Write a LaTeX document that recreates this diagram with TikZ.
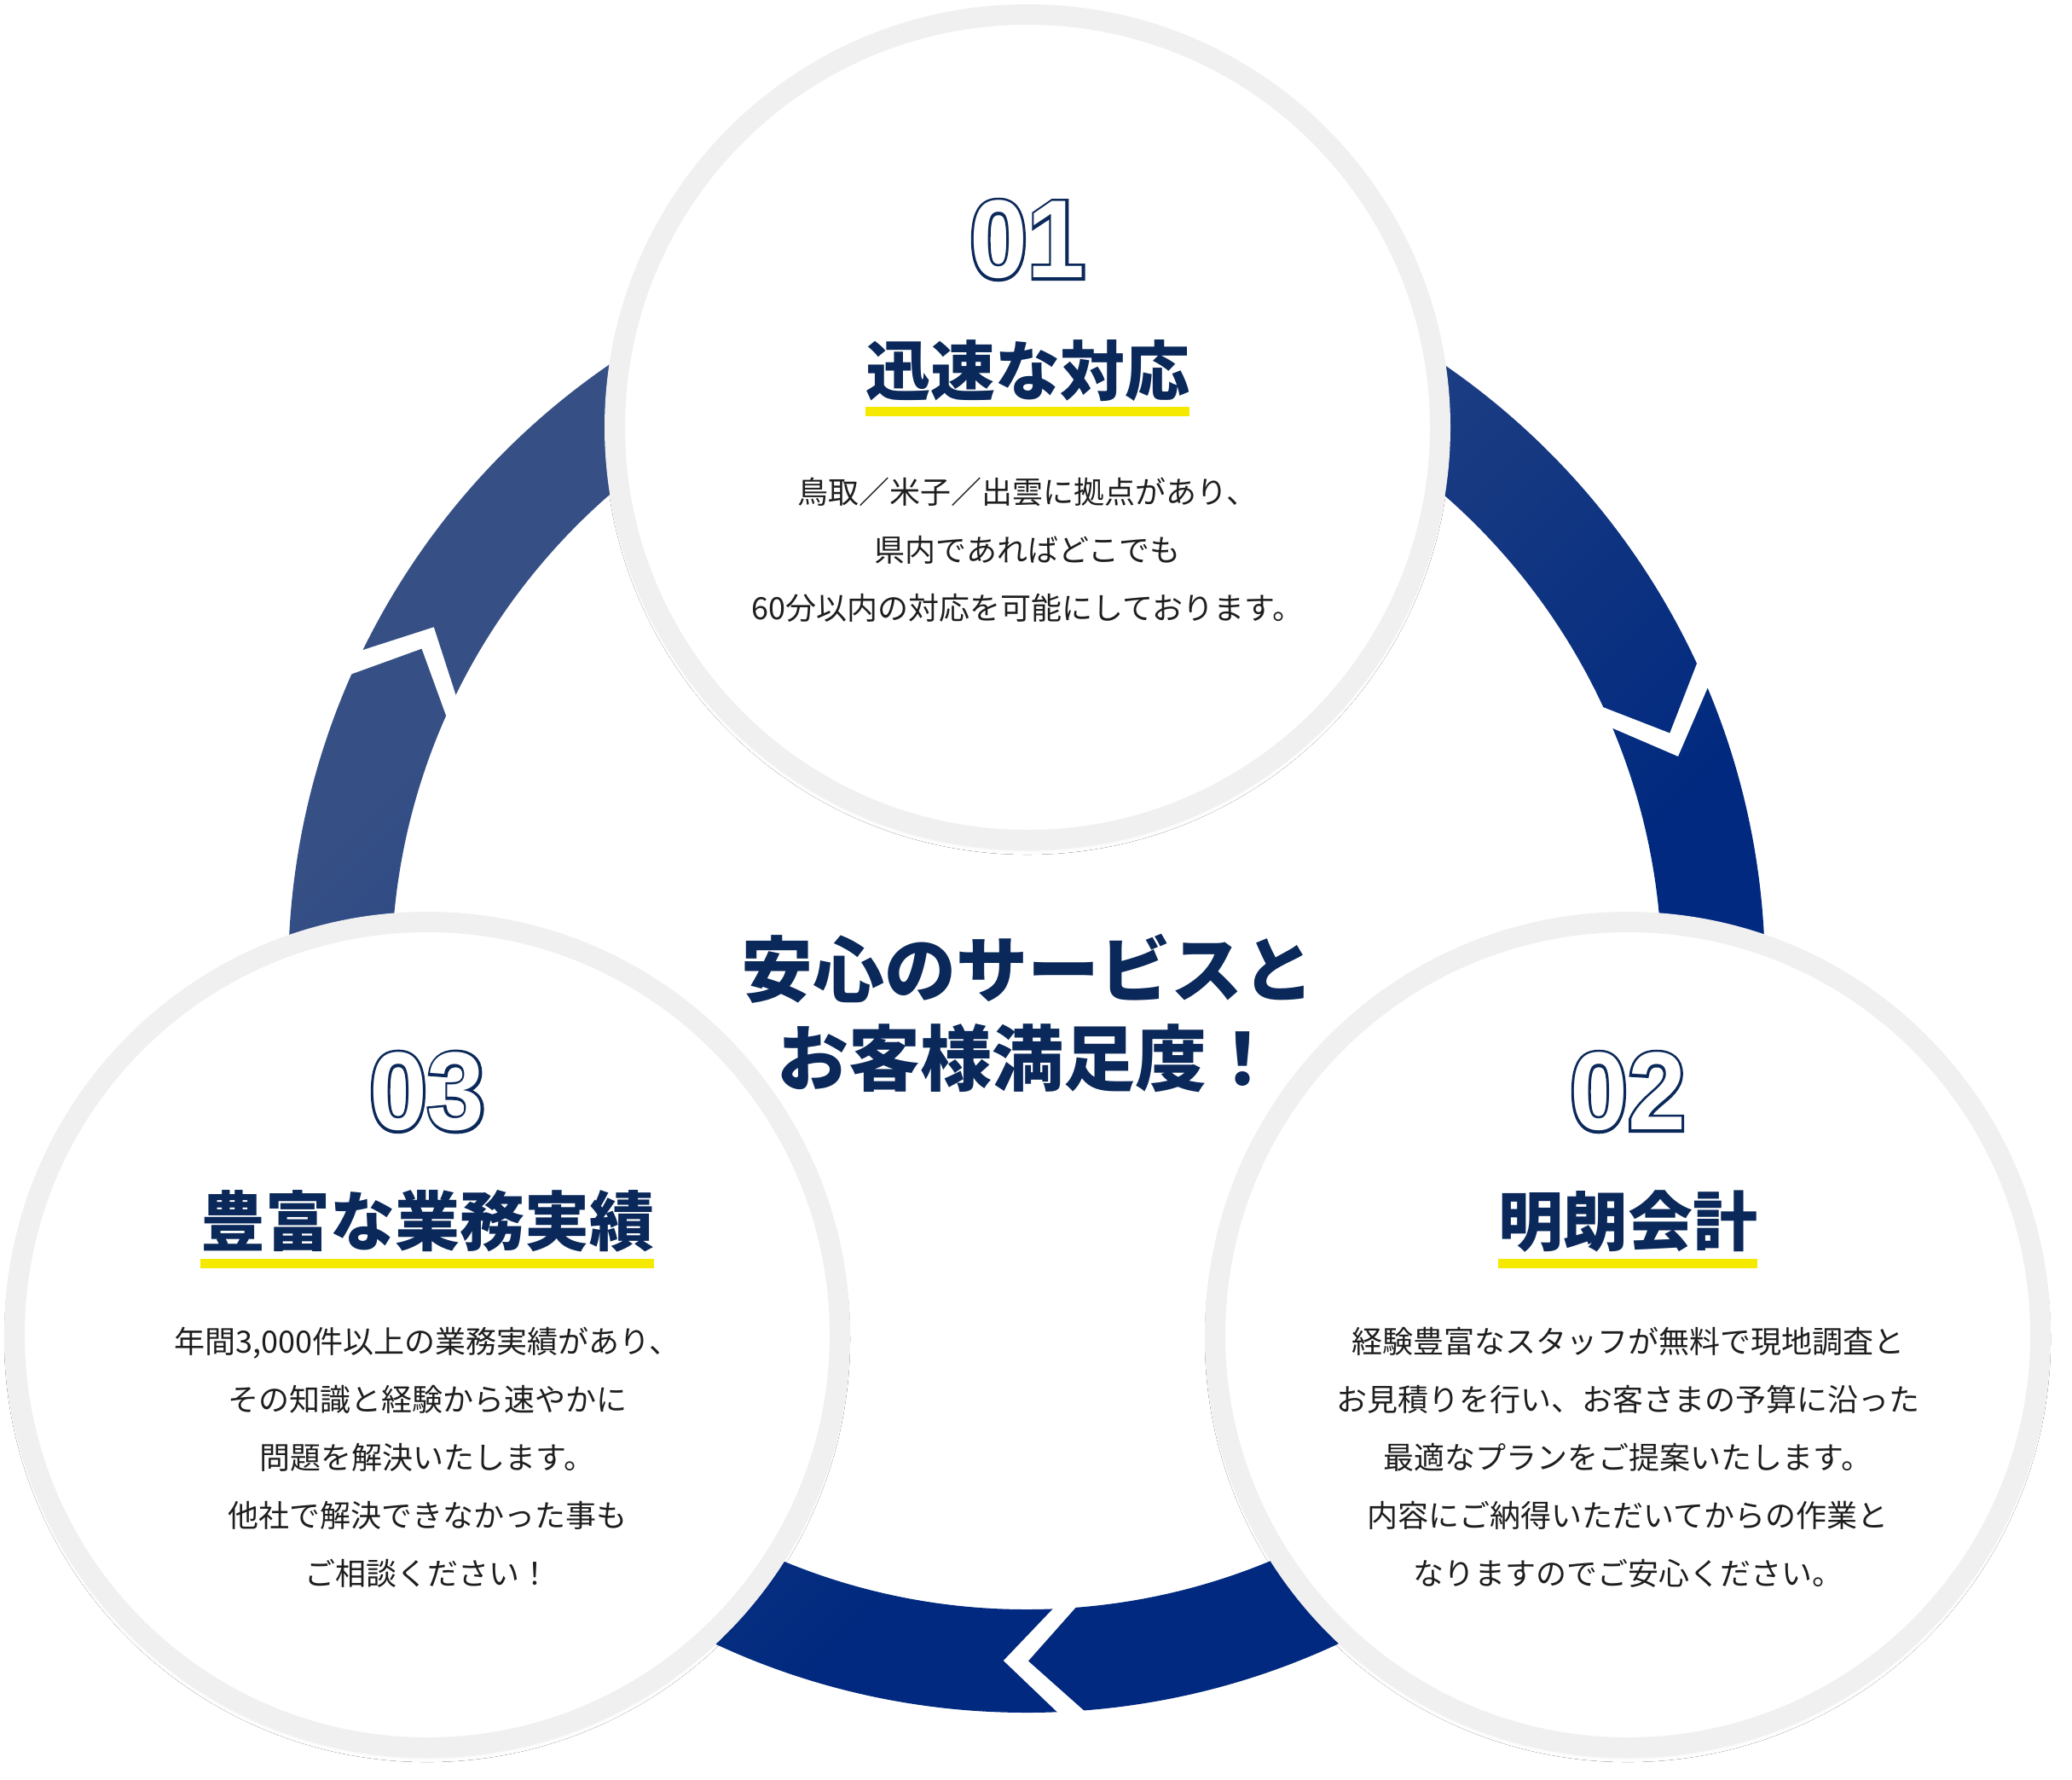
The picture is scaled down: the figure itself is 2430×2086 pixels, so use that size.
\documentclass[tikz,border=0pt]{standalone}
\usepackage{fontspec}
\usetikzlibrary{calc,shadows.blur}
\newfontfamily\jp{Noto Sans CJK JP}
\newfontfamily\numo{Liberation Sans Bold}[FakeBold=5]
\newfontfamily\numw{Liberation Sans Bold}
\definecolor{navy}{HTML}{0A2859}
\definecolor{yel}{HTML}{F5E900}
\definecolor{rim}{HTML}{F0F0F0}
\definecolor{bodyc}{HTML}{1E1E1E}
\definecolor{ringL}{RGB}{54,80,133}
\definecolor{ringD}{RGB}{0,41,127}
\pgfdeclarehorizontalshading{ringsh}{100bp}{color(0bp)=(ringL); color(30bp)=(ringL); color(62bp)=(ringD); color(100bp)=(ringD)}
\tikzset{
  disc/.style={circle, minimum size=968pt, inner sep=0pt, fill=white, draw=rim, line width=24pt,
     blur shadow={shadow xshift=0pt, shadow yshift=-5pt, shadow blur radius=12pt, shadow opacity=15}},
  numout/.style={inner sep=0pt, text=navy, font=\numo\fontsize{130}{130}\selectfont},
  numin/.style={inner sep=0pt, text=white, font=\numw\fontsize{130}{130}\selectfont},
  ttl/.style={inner sep=0pt, text=navy, font=\jp\bfseries\fontsize{76}{76}\selectfont},
  bodytxt/.style={inner sep=0pt, text=bodyc, align=center, font=\jp\fontsize{36}{68}\selectfont},
  headtxt/.style={inner sep=0pt, text=navy, align=center, font=\jp\bfseries\fontsize{84}{104}\selectfont},
  uline/.style={fill=yel},
  gapfill/.style={fill=white},
}
\newcommand\numtxt[1]{\scalebox{0.94}[1]{#1}}
\newcommand\chevgap[3]{%
  \coordinate (#1va) at ($(C)+(#3+1.03:805.5pt)$);
  \coordinate (#1vb) at ($(C)+(#3-1.03:805.5pt)$);
  \coordinate (#1oa) at ($(C)+(#2+1.03:866pt)$);
  \coordinate (#1ob) at ($(C)+(#2-1.03:866pt)$);
  \coordinate (#1ia) at ($(C)+(#2+1.03:745pt)$);
  \coordinate (#1ib) at ($(C)+(#2-1.03:745pt)$);
  \fill[gapfill] ($(#1va)!1.6!(#1oa)$) -- (#1va) -- ($(#1va)!1.6!(#1ia)$)
     -- ($(#1vb)!1.6!(#1ib)$) -- (#1vb) -- ($(#1vb)!1.6!(#1ob)$) -- cycle;}
\begin{document}
\begin{tikzpicture}[x=1pt,y=-1pt]
\useasboundingbox (0,0) rectangle (2430,2086);
\fill[white] (0,0) rectangle (2430,2086);
\coordinate (C) at (1204,1142);
\shade[shading=ringsh, shading angle=-45, even odd rule] (C) circle[radius=866pt] (C) circle[radius=745pt];
\chevgap{r}{23.8}{19.5}
\chevgap{b}{-86.6}{-90.9}
\chevgap{l}{155.0}{150.7}
\node[disc] (c1) at (1205,501) {};
\node[disc] (c2) at (1909,1565) {};
\node[disc] (c3) at (501,1565) {};
% circle 01
\node[numout] (n1o) at (1205,281) {\numtxt{01}};
\node[numin] (n1) at (1205,281) {\numtxt{01}};
\node[ttl] (t1) at (1205,435) {迅速な対応};
\fill[uline] (t1.west |- 0,477) rectangle (t1.east |- 0,488);
\node[bodytxt] (b1) at (1205,645) {鳥取／米子／出雲に拠点があり、\\県内であればどこでも\\60分以内の対応を可能にしております。};
% circle 02
\node[numout] (n2o) at (1909,1280) {\numtxt{02}};
\node[numin] (n2) at (1909,1280) {\numtxt{02}};
\node[ttl] (t2) at (1909,1432) {明朗会計};
\fill[uline] (t2.west |- 0,1476) rectangle (t2.east |- 0,1487);
\node[bodytxt] (b2) at (1909,1709) {経験豊富なスタッフが無料で現地調査と\\お見積りを行い、お客さまの予算に沿った\\最適なプランをご提案いたします。\\内容にご納得いただいてからの作業と\\なりますのでご安心ください。};
% circle 03
\node[numout] (n3o) at (501,1280) {\numtxt{03}};
\node[numin] (n3) at (501,1280) {\numtxt{03}};
\node[ttl] (t3) at (501,1432) {豊富な業務実績};
\fill[uline] (t3.west |- 0,1476) rectangle (t3.east |- 0,1487);
\node[bodytxt] (b3) at (501,1709) {年間3,000件以上の業務実績があり、\\その知識と経験から速やかに\\問題を解決いたします。\\他社で解決できなかった事も\\ご相談ください！};
% centre
\node[headtxt] (h) at (1205,1188) {安心のサービスと\\お客様満足度！};
\end{tikzpicture}
\end{document}
